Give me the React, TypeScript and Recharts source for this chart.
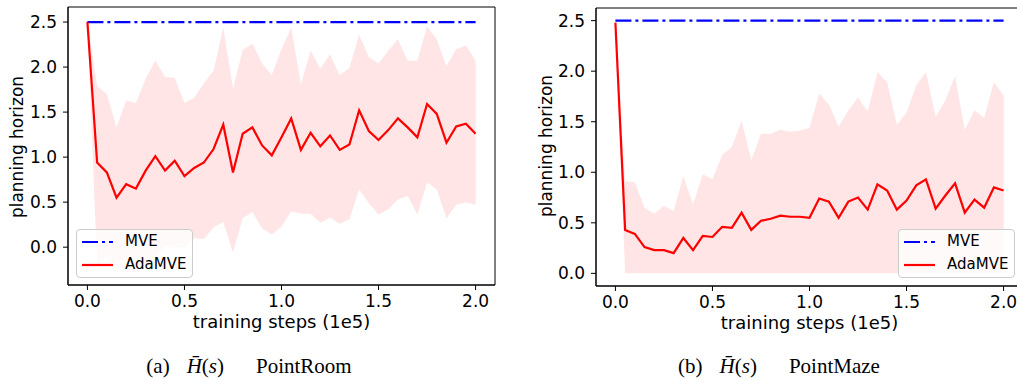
import { ComposedChart, Area, Line, XAxis, YAxis, ReferenceArea, Legend, Label } from 'recharts';

// training steps (1e5)
const steps = [
  0, 0.05, 0.1, 0.15, 0.2, 0.25, 0.3, 0.35, 0.4, 0.45, 0.5, 0.55, 0.6, 0.65, 0.7, 0.75, 0.8, 0.85, 0.9, 0.95, 1.0,
  1.05, 1.1, 1.15, 1.2, 1.25, 1.3, 1.35, 1.4, 1.45, 1.5, 1.55, 1.6, 1.65, 1.7, 1.75, 1.8, 1.85, 1.9, 1.95, 2.0,
];

const mveHorizon = [
  2.5, 2.5, 2.5, 2.5, 2.5, 2.5, 2.5, 2.5, 2.5, 2.5, 2.5, 2.5, 2.5, 2.5, 2.5, 2.5, 2.5, 2.5, 2.5, 2.5, 2.5,
  2.5, 2.5, 2.5, 2.5, 2.5, 2.5, 2.5, 2.5, 2.5, 2.5, 2.5, 2.5, 2.5, 2.5, 2.5, 2.5, 2.5, 2.5, 2.5, 2.5,
];

// (a) PointRoom
const roomAda = [
  2.5, 0.94, 0.83, 0.55, 0.7, 0.65, 0.85, 1.01, 0.85, 0.96, 0.79, 0.88, 0.94, 1.09, 1.36, 0.83, 1.26, 1.33, 1.13, 1.02, 1.22,
  1.43, 1.08, 1.27, 1.12, 1.24, 1.08, 1.14, 1.52, 1.29, 1.19, 1.3, 1.43, 1.33, 1.22, 1.59, 1.48, 1.16, 1.34, 1.37, 1.26,
];
const roomHigh = [
  2.5, 1.79, 1.7, 1.33, 1.63, 1.6, 1.87, 2.07, 1.89, 1.88, 1.6, 1.66, 1.82, 1.96, 2.44, 1.76, 2.19, 2.26, 2.04, 1.91, 2.2,
  2.44, 1.81, 2.18, 1.98, 2.14, 1.91, 1.99, 2.36, 2.11, 2.04, 2.18, 2.31, 2.07, 2.07, 2.45, 2.31, 2.01, 2.2, 2.24, 2.07,
];
const roomLow = [
  2.5, -0.2, -0.1, -0.22, -0.27, -0.28, -0.2, -0.1, 0.02, 0.0, 0.0, 0.1, 0.09, 0.22, 0.28, -0.06, 0.32, 0.39, 0.21, 0.14, 0.23,
  0.4, 0.37, 0.37, 0.27, 0.33, 0.26, 0.31, 0.64, 0.49, 0.36, 0.42, 0.53, 0.57, 0.36, 0.72, 0.64, 0.32, 0.47, 0.5, 0.47,
];

// (b) PointMaze
const mazeAda = [
  2.48, 0.43, 0.39, 0.26, 0.23, 0.23, 0.2, 0.35, 0.23, 0.37, 0.36, 0.46, 0.45, 0.6, 0.43, 0.52, 0.54, 0.57, 0.56, 0.56, 0.55,
  0.74, 0.71, 0.55, 0.71, 0.75, 0.63, 0.88, 0.82, 0.63, 0.72, 0.87, 0.93, 0.64, 0.77, 0.89, 0.6, 0.73, 0.65, 0.85, 0.82,
];
const mazeHigh = [
  2.48, 0.91, 0.9, 0.65, 0.59, 0.67, 0.62, 0.96, 0.68, 0.98, 0.93, 1.17, 1.25, 1.51, 1.12, 1.38, 1.38, 1.42, 1.4, 1.41, 1.44,
  1.78, 1.67, 1.45, 1.61, 1.74, 1.6, 1.99, 1.89, 1.47, 1.59, 1.86, 1.99, 1.55, 1.71, 1.95, 1.42, 1.61, 1.54, 1.89, 1.76,
];
const mazeLow = [
  2.48, 0, 0, 0, 0, 0, 0, 0, 0, 0, 0, 0, 0, 0, 0, 0, 0, 0, 0, 0, 0,
  0, 0, 0, 0, 0, 0, 0, 0, 0, 0, 0, 0, 0, 0, 0, 0, 0, 0, 0, 0,
];

const xTicks = [0, 0.5, 1.0, 1.5, 2.0];
const yTicks = [0, 0.5, 1.0, 1.5, 2.0, 2.5];

const MVE_DASH = '16 4 3 4';

const legendItems = [
  { name: 'MVE', color: '#0000ff', dash: MVE_DASH },
  { name: 'AdaMVE', color: '#ff0000', dash: undefined },
];

const font = '"DejaVu Sans", sans-serif';

function buildRows(ada: number[], low: number[], high: number[]) {
  return steps.map((x, i) => ({ x, band: [low[i], high[i]], ada: ada[i], mve: mveHorizon[i] }));
}

function LegendBox() {
  return (
    <div
      style={{
        width: 117,
        height: 49,
        boxSizing: 'border-box',
        border: '1px solid #cccccc',
        borderRadius: 4,
        background: 'rgba(255,255,255,0.8)',
        paddingLeft: 5,
      }}
    >
      {legendItems.map((it) => (
        <div key={it.name} style={{ display: 'flex', alignItems: 'center', height: 23 }}>
          <svg width={31} height={4} style={{ display: 'block' }}>
            <line x1={0} y1={2} x2={31} y2={2} stroke={it.color} strokeWidth={2.2} strokeDasharray={it.dash} />
          </svg>
          <span style={{ marginLeft: 12, fontFamily: font, fontSize: 15, color: '#000', lineHeight: '15px' }}>
            {it.name}
          </span>
        </div>
      ))}
    </div>
  );
}

interface PanelProps {
  rows: ReturnType<typeof buildRows>;
  yDomain: [number, number];
  top: number;
  height: number;
  legendLeft: number;
}

function Panel({ rows, yDomain, top, height, legendLeft }: PanelProps) {
  const tick = { fill: '#000', fontSize: 17, fontFamily: font };
  return (
    <ComposedChart width={510} height={height} data={rows} margin={{ top, right: 15, left: 8, bottom: 0 }}>
      <XAxis
        dataKey="x"
        type="number"
        domain={[-0.1, 2.1]}
        ticks={xTicks}
        tickFormatter={(v: number) => v.toFixed(1)}
        allowDataOverflow
        height={55}
        tick={tick}
        tickSize={5}
        tickMargin={5}
        stroke="#000"
      >
        <Label value="training steps (1e5)" position="insideBottom" offset={12} fill="#000" fontSize={18} fontFamily={font} />
      </XAxis>
      <YAxis
        type="number"
        domain={yDomain}
        ticks={yTicks}
        tickFormatter={(v: number) => v.toFixed(1)}
        allowDataOverflow
        width={60}
        tick={tick}
        tickSize={5}
        tickMargin={6}
        stroke="#000"
      />
      <Area
        dataKey="band"
        type="linear"
        stroke="none"
        fill="#ffe5e5"
        fillOpacity={1}
        isAnimationActive={false}
        activeDot={false}
      />
      <Line
        dataKey="mve"
        name="MVE"
        type="linear"
        stroke="#0000ff"
        strokeWidth={2.2}
        strokeDasharray={MVE_DASH}
        dot={false}
        activeDot={false}
        isAnimationActive={false}
      />
      <Line
        dataKey="ada"
        name="AdaMVE"
        type="linear"
        stroke="#ff0000"
        strokeWidth={2.2}
        dot={false}
        activeDot={false}
        isAnimationActive={false}
      />
      <ReferenceArea
        x1={-0.1}
        x2={2.1}
        y1={yDomain[0]}
        y2={yDomain[1]}
        fill="none"
        stroke="#000"
        strokeWidth={1}
        fillOpacity={0}
        ifOverflow="visible"
      />
      <Legend
        layout="horizontal"
        verticalAlign="middle"
        align="center"
        content={() => <LegendBox />}
        wrapperStyle={{ left: legendLeft, top: 229, width: 117, height: 49 }}
      />
    </ComposedChart>
  );
}

const yLabelStyle: React.CSSProperties = {
  position: 'absolute',
  transform: 'translate(-50%, -50%) rotate(-90deg)',
  fontFamily: font,
  fontSize: 17,
  color: '#000',
  whiteSpace: 'nowrap',
};

const captionStyle: React.CSSProperties = {
  position: 'absolute',
  transform: 'translate(-50%, -50%)',
  fontFamily: '"Liberation Serif", serif',
  fontSize: 21,
  color: '#000',
  whiteSpace: 'nowrap',
};

function Caption({ tag, name }: { tag: string; name: string }) {
  return (
    <>
      ({tag})
      <span style={{ marginLeft: 17 }}>
        <i>H&#772;</i>(<i>s</i>)
      </span>
      <span style={{ marginLeft: 32 }}>{name}</span>
    </>
  );
}

export default function App() {
  return (
    <div
      style={{
        position: 'absolute',
        left: 0,
        top: 0,
        width: 1017,
        height: 381,
        overflow: 'hidden',
        background: '#fff',
      }}
    >
      <div style={{ position: 'absolute', left: 0, top: 0 }}>
        <Panel rows={buildRows(roomAda, roomLow, roomHigh)} yDomain={[-0.42, 2.667]} top={7} height={340} legendLeft={76} />
      </div>
      <div style={{ position: 'absolute', left: 528, top: 0 }}>
        <Panel rows={buildRows(mazeAda, mazeLow, mazeHigh)} yDomain={[-0.125, 2.625]} top={8} height={341} legendLeft={370} />
      </div>
      <div style={{ ...yLabelStyle, left: 17, top: 147 }}>planning horizon</div>
      <div style={{ ...yLabelStyle, left: 546, top: 146 }}>planning horizon</div>
      <div style={{ ...captionStyle, left: 249, top: 366 }}>
        <Caption tag="a" name="PointRoom" />
      </div>
      <div style={{ ...captionStyle, left: 779, top: 366 }}>
        <Caption tag="b" name="PointMaze" />
      </div>
    </div>
  );
}
